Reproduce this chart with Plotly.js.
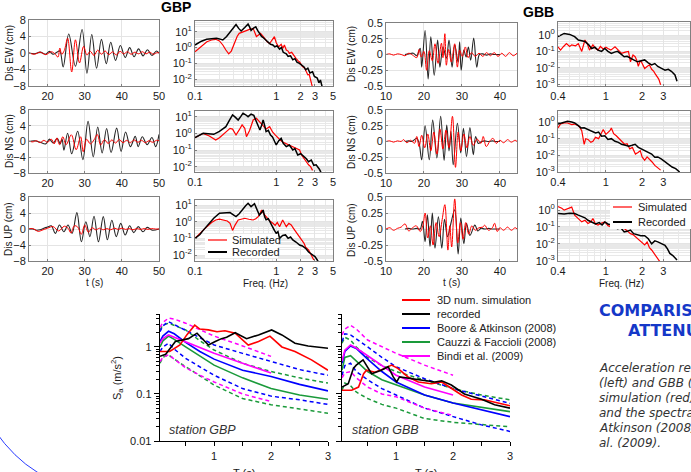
<!DOCTYPE html>
<html><head><meta charset="utf-8">
<script src="https://cdn.plot.ly/plotly-3.0.1.min.js"></script>
<style>html,body{margin:0;padding:0;background:#fff;}#chart{width:691px;height:472px;}</style>
</head><body><div id="chart"></div>
<script>
// ---------------- DATA: displacement time series (cm) ----------------
const gbpEwRecT=[15,16.5,18,19.5,20.5,21.5,22.5,23.3,24.2,25.7,27.5,29.3,30.6,31.9,33.2,34.5,35.8,37.0,38.3,39.6,40.9,42.1,43.3,44.5,45.7,46.9,48.1,49.3,50];
const gbpEwRec=[0,-0.2,0.2,-0.3,0.4,-0.3,0.2,0.5,-3.4,4.6,-3.2,5.7,-4.9,4.5,-3.7,3.3,-2.6,2.6,-1.8,1.8,-1.1,1.3,-0.9,1.0,-0.7,0.8,-0.6,0.5,0];
const gbpEwSimT=[15,16.5,18,19.5,21,22,22.8,23.3,23.8,24.5,25.4,26.5,27.5,28.6,29.7,30.6,31.5,32.5,33.5,34.5,35.5,36.5,37.5,38.5,39.5,40.5,41.5,42.5,43.5,44.5,45.5,46.5,47.5,48.5,49.5,50];
const gbpEwSim=[0,-0.3,0.2,-0.4,0.3,-0.2,-1.0,1.2,-0.3,0.6,3.6,-4.6,3.2,-2.4,1.6,-0.5,0.4,-0.6,0.7,-0.3,0.5,-0.4,0.3,-0.5,0.4,-0.2,0.3,-0.3,0.2,-0.2,0.3,-0.2,0.2,-0.3,0.1,0];
const gbpNsRecT=[15,16.5,18,19.5,20.5,21.5,22.6,23.4,23.9,24.4,25.4,26.5,28.1,29.5,30.9,32.3,33.5,34.7,35.9,37.1,38.6,39.8,41.0,42.3,43.6,44.4,45.5,46.8,48.1,49.1,50];
const gbpNsRec=[0,0.2,-0.2,-0.6,0.6,-0.4,0.8,-0.6,0.6,-2.2,2.1,-3.1,2.6,-4.6,5.1,-3.9,3.7,-2.9,3.3,-2.8,3.4,-2.5,2.4,-1.3,1.3,-1.3,1.2,-0.8,1.0,-1.3,1.8];
const gbpNsSimT=[15,16,17,18,19,20,21,21.8,22.5,23.2,24.1,25.0,26.4,27.7,28.9,29.6,30.5,31.5,32.5,33.4,34.3,35.3,36.3,37.3,38.3,39.3,40.3,41.3,42.3,43.3,44.3,45.3,46.3,47.3,48.3,49.3,50];
const gbpNsSim=[0.1,-0.1,0.2,-0.3,0.3,-0.2,0.6,-0.6,0.9,-0.8,1.2,-0.8,1.7,-2.1,1.2,-2.6,0.6,-0.6,0.4,1.8,-0.9,0.5,-0.5,0.4,-0.4,0.5,-0.3,0.3,-0.3,0.4,-0.2,0.3,-0.3,0.2,-0.2,0.3,0.2];
const gbpUpRecT=[15,16,17,18,19,20,21,22.1,23.2,24.4,25.5,26.6,27.9,29.1,30.3,31.4,32.5,33.7,35,36.1,37.3,38.5,39.7,40.9,42.1,43.2,44.4,45.7,46.8,48.2,50];
const gbpUpRec=[0,0,-0.3,-0.2,0.2,0.5,0.8,-1.1,1.0,-0.7,1.0,-1.1,4.1,-3.2,1.8,-1.9,3.2,-3.2,3.1,-2.7,2.2,-1.9,1.4,-1.5,0.8,-0.9,0.6,-0.7,0.4,-0.3,0];
const gbpUpSimT=[15,16,17.5,18.5,20,21.5,23,24.5,25.5,26.3,27.2,28.1,29.1,30,31,32,33,34,35,36,37,38,39,40,41,42,43,44,45,46,47,48,49,50];
const gbpUpSim=[0,0.1,-0.6,-0.3,0.2,0.6,-0.5,0.7,0.2,-1.0,0.8,0.5,-1.3,1.0,-0.8,0.3,-0.2,0.2,-0.2,0.1,-0.2,0.2,-0.1,0.2,-0.1,0.1,-0.2,0.1,-0.1,0.1,-0.1,0.1,0,0];

const gbbEwRecT=[15,16,17.2,18.1,19,19.4,20.3,21.1,21.8,22.7,23.6,24.2,25,25.9,26.6,27.4,28.1,29,29.4,29.8,30.5,31.1,31.7,32.3,33.1,33.9,34.6,35.5,36.5,37.5,38.5,40];
const gbbEwRec=[0,0.01,0.02,-0.02,0.1,-0.2,0.38,-0.39,0.28,-0.33,0.23,-0.2,0.12,-0.06,0.23,-0.2,0.15,-0.12,0.2,-0.25,0.07,-0.04,0.12,-0.09,0.26,-0.2,0,0.01,-0.01,0.01,0,0];
const gbbEwSimT=[10,11,12,13,14,15,16,17,18.1,18.7,19.3,20,20.7,21.4,22.2,22.9,23.7,24.6,25,25.5,25.9,26.5,27.2,28.1,28.8,29.4,30.1,30.9,31.6,32.5,33.5,34.5,35.5,36.5,37.5,38.5,39.5,40.5,41.5,42.5,43.5,44.5];
const gbbEwSim=[0,0.01,-0.01,0.01,0,-0.02,0.02,-0.01,-0.05,0.08,-0.04,0.05,-0.25,0.06,-0.1,0.17,-0.14,0.18,-0.05,0.33,-0.17,0.08,-0.12,0.17,-0.2,0.07,-0.03,0.12,-0.05,0.03,-0.03,0.02,-0.03,0.03,-0.02,0.03,-0.03,0.02,-0.03,0.03,-0.02,0.02];
const gbbNsRecT=[15,16,16.8,18.1,18.7,19.4,20.3,21.4,22.3,23.4,24.4,25.3,26,26.6,27.1,27.7,28.8,29.7,30.4,31.2,32.1,33,33.6,34.3,35.2,36,37,38,39,40];
const gbbNsRec=[0,0.01,0,0.05,-0.02,-0.29,0.25,-0.29,0.34,-0.26,0.4,-0.3,0.26,-0.15,0.16,-0.37,0.29,-0.18,0.21,-0.24,0.22,-0.21,0.08,-0.03,0,0.01,0,0.01,0,0];
const gbbNsSimT=[10,11,12,13,14,14.6,15.5,16.5,17.5,18.1,18.7,19.4,20.2,21,21.8,22.6,23.4,24.2,25,25.8,26.6,27.5,28.3,29,29.7,30.5,31.3,32.1,33,34,35,35.6,36.4,37.5,38.2,39,40,41,42,43,44,44.5];
const gbbNsSim=[0,0.01,-0.01,0.01,0,0.03,-0.02,0.02,-0.03,0.08,-0.08,0.1,-0.1,0.12,-0.15,0.15,-0.2,0.2,-0.12,0.18,-0.1,0.4,-0.41,0.15,-0.15,0.12,-0.1,0.08,-0.06,0.04,-0.03,0.08,-0.08,0.02,0.05,-0.03,0.02,-0.02,0.03,-0.01,0.02,0];
const gbbUpRecT=[15,16,17,18,19,19.6,20.3,20.9,21.6,22.2,22.9,23.8,24.7,25.4,26.2,27.1,28.1,29,29.7,30.5,31.2,32.1,33.4,34.2,35,36,37,38,39,40];
const gbbUpRec=[0,0.01,0,0.01,0,0.12,-0.2,0.22,-0.27,0.25,-0.3,0.19,-0.3,0.15,-0.12,0.09,0.3,-0.39,0.17,-0.23,0.09,-0.1,0.06,-0.03,0.01,0,0.01,0,0,0];
const gbbUpSimT=[10,11,12,13,14,15,16,17,18,19,19.7,20.3,21,21.7,22.4,23.2,24,24.8,25.5,26.3,26.8,27.3,28.1,28.9,29.6,30.3,31,31.8,32.6,33.5,34.5,35.5,36,37,38,38.6,39.3,40,41,42,43,44,44.5];
const gbbUpSim=[0,0.02,-0.02,0.01,0.03,0.08,-0.03,0.02,0.05,-0.04,0.05,0.25,-0.14,0.05,-0.25,0.1,-0.12,0.15,0.38,-0.33,0.05,-0.28,0.47,-0.22,0.1,-0.16,0.1,-0.08,0.05,-0.02,0.02,0.03,0.06,-0.02,0.02,0.09,-0.04,0.02,-0.02,0.03,-0.02,0.02,0];

// ---------------- DATA: Fourier spectra ----------------
const gbpEwRecF=[0.1,0.12,0.139,0.16,0.184,0.2,0.22,0.245,0.27,0.3,0.32,0.345,0.37,0.41,0.45,0.47,0.49,0.52,0.56,0.59,0.62,0.66,0.7,0.75,0.8,0.85,0.91,0.96,1.02,1.1,1.16,1.22,1.33,1.4,1.5,1.6,1.7,1.8,1.93,2.05,2.2,2.3,2.45,2.6,2.8,2.95,3.2,3.35,3.5,3.7];
const gbpEwRecA=[1.45,2.5,3.3,3.6,3.8,3.5,3.0,5,10,20,28,16,11,18,30,20,12,16,20,12,7.8,5,4,3,2.2,1.6,1.45,1.1,1.3,0.8,1.0,0.5,0.4,0.28,0.3,0.17,0.2,0.12,0.1,0.08,0.06,0.04,0.05,0.025,0.03,0.015,0.012,0.006,0.009,0.003];
const gbpEwSimF=[0.1,0.12,0.14,0.16,0.18,0.2,0.22,0.24,0.26,0.28,0.3,0.33,0.35,0.39,0.43,0.47,0.52,0.55,0.57,0.6,0.64,0.69,0.74,0.78,0.83,0.88,0.95,1.0,1.07,1.15,1.21,1.26,1.33,1.4,1.45,1.55,1.65,1.75,1.85,1.95,2.1,2.25,2.35,2.45,2.55,2.7,2.8];
const gbpEwSimA=[0.55,1.2,2.3,3.0,3.3,2.6,1.45,0.7,0.4,0.6,1.5,5,7.8,10,12,14,16,9,4.9,6,7.8,5,3,2.2,1.8,3,4.8,2,1.1,1.6,0.9,1.45,0.7,0.6,0.43,0.5,0.3,0.21,0.15,0.12,0.063,0.05,0.03,0.019,0.02,0.007,0.003];
const gbpNsRecF=[0.1,0.115,0.126,0.145,0.17,0.2,0.22,0.24,0.265,0.29,0.315,0.34,0.365,0.39,0.42,0.45,0.49,0.53,0.57,0.6,0.63,0.66,0.69,0.72,0.75,0.8,0.85,0.9,0.95,1.0,1.07,1.15,1.22,1.33,1.45,1.6,1.7,1.84,2.0,2.2,2.35,2.5,2.7,2.9,3.1,3.4,3.6];
const gbpNsRecA=[0.55,0.8,1.0,0.95,0.87,1.3,1.8,2.5,6,12.6,9,6.3,10,16,13,10,14,12,5,2.5,1.6,3,6.3,3,1.26,1.5,0.8,0.6,0.35,0.2,0.35,0.5,0.25,0.16,0.2,0.1,0.12,0.05,0.06,0.04,0.03,0.02,0.025,0.012,0.013,0.007,0.004];
const gbpNsSimF=[0.1,0.115,0.126,0.15,0.18,0.2,0.22,0.25,0.27,0.29,0.32,0.35,0.38,0.41,0.43,0.47,0.52,0.57,0.62,0.69,0.75,0.83,0.9,0.97,1.05,1.12,1.2,1.3,1.4,1.5,1.6,1.75,1.94,2.05,2.2,2.35,2.5,2.65,2.8];
const gbpNsSimA=[0.55,0.8,1.0,0.7,0.4,0.55,0.8,1.4,2,1.8,0.8,1.6,3.2,2,0.63,1.5,6.3,8,5,3.2,1.8,2.5,1.2,0.8,0.5,0.4,0.3,0.25,0.2,0.18,0.16,0.12,0.1,0.05,0.03,0.02,0.013,0.01,0.006];
const gbpUpRecF=[0.1,0.115,0.126,0.145,0.17,0.2,0.23,0.27,0.3,0.32,0.35,0.39,0.42,0.45,0.49,0.54,0.58,0.62,0.66,0.69,0.72,0.75,0.8,0.85,0.9,0.95,1.0,1.05,1.1,1.2,1.3,1.4,1.5,1.6,1.75,1.94,2.1,2.3,2.5,2.8,3.0,3.2,3.4];
const gbpUpRecA=[0.1,0.17,0.3,0.7,1.6,3.2,3.5,3.5,2.5,2,3,6.3,9,12.6,8,12,6,2.5,3.5,5,2,1.3,1.5,0.8,0.5,0.3,0.2,0.25,0.1,0.15,0.16,0.1,0.12,0.08,0.06,0.04,0.035,0.025,0.015,0.01,0.008,0.005,0.003];
const gbpUpSimF=[0.1,0.12,0.14,0.16,0.18,0.2,0.22,0.25,0.27,0.29,0.31,0.34,0.37,0.41,0.46,0.52,0.56,0.6,0.63,0.66,0.7,0.75,0.82,0.91,0.97,1.03,1.1,1.2,1.27,1.33,1.43,1.53,1.63,1.75,1.9,2.05,2.2,2.3,2.5,2.7,2.9];
const gbpUpSimA=[0.1,0.25,0.5,0.9,1.26,1.4,1.26,1.1,0.8,0.3,0.6,1.26,1.4,1.6,1.4,1.26,1.5,2,3,5,3,2,1.2,0.8,0.6,0.9,0.5,1.26,0.7,0.5,0.8,0.63,0.4,0.25,0.15,0.08,0.05,0.03,0.02,0.01,0.005];

const gbbEwRecF=[0.4,0.45,0.5,0.55,0.59,0.63,0.67,0.72,0.76,0.81,0.86,0.92,0.98,1.04,1.11,1.18,1.25,1.33,1.42,1.5,1.6,1.7,1.83,1.95,2.1,2.25,2.4,2.55,2.7,2.9,3.1,3.3,3.5,3.75,3.9];
const gbbEwRecA=[0.8,1.26,1.1,0.8,0.5,0.45,0.4,0.25,0.15,0.18,0.12,0.1,0.15,0.1,0.075,0.09,0.1,0.07,0.047,0.05,0.037,0.03,0.023,0.025,0.03,0.02,0.015,0.018,0.012,0.009,0.007,0.008,0.006,0.0036,0.0015];
const gbbEwSimF=[0.4,0.42,0.445,0.47,0.5,0.52,0.56,0.59,0.63,0.65,0.67,0.7,0.73,0.78,0.82,0.86,0.9,0.95,1.0,1.04,1.1,1.19,1.27,1.35,1.45,1.54,1.6,1.68,1.75,1.8,1.86,1.92,1.97,2.03,2.1,2.2,2.3,2.4,2.5,2.58,2.65,2.75,2.85];
const gbbEwSimA=[0.19,0.12,0.2,0.3,0.2,0.25,0.22,0.3,0.1,0.2,0.5,0.3,0.12,0.25,0.15,0.12,0.2,0.14,0.18,0.15,0.12,0.19,0.12,0.075,0.09,0.1,0.023,0.06,0.047,0.03,0.012,0.025,0.023,0.015,0.009,0.012,0.015,0.008,0.006,0.004,0.003,0.002,0.0009];
const gbbNsRecF=[0.4,0.44,0.48,0.52,0.55,0.59,0.62,0.66,0.71,0.76,0.82,0.87,0.92,0.98,1.04,1.11,1.19,1.27,1.35,1.45,1.55,1.65,1.75,1.86,1.98,2.1,2.25,2.4,2.55,2.7,2.9,3.1,3.3,3.55,3.8,4.1];
const gbbNsRecA=[0.76,0.9,1.1,1.0,0.87,0.6,0.44,0.45,0.35,0.3,0.22,0.25,0.14,0.15,0.09,0.1,0.07,0.06,0.046,0.04,0.035,0.04,0.046,0.03,0.024,0.02,0.015,0.012,0.0077,0.008,0.006,0.004,0.003,0.002,0.0016,0.001];
const gbbNsSimF=[0.4,0.42,0.45,0.48,0.52,0.55,0.6,0.63,0.66,0.68,0.71,0.75,0.78,0.82,0.87,0.91,0.95,1.0,1.04,1.08,1.11,1.16,1.22,1.27,1.35,1.43,1.5,1.58,1.66,1.76,1.85,1.93,2.0,2.1,2.2,2.3,2.42,2.55,2.7,2.85];
const gbbNsSimA=[0.44,0.76,0.87,0.87,0.7,0.75,0.55,0.3,0.046,0.1,0.09,0.06,0.07,0.12,0.1,0.2,0.35,0.18,0.22,0.3,0.44,0.2,0.15,0.11,0.07,0.046,0.05,0.024,0.03,0.012,0.015,0.019,0.008,0.005,0.008,0.006,0.004,0.0025,0.0018,0.0013];
const gbbUpRecF=[0.4,0.45,0.5,0.55,0.59,0.63,0.67,0.71,0.76,0.82,0.88,0.93,0.98,1.04,1.11,1.18,1.25,1.33,1.42,1.5,1.6,1.7,1.8,1.95,2.1,2.25,2.4,2.55,2.7,2.9,3.1,3.25,3.4,3.6,3.75,3.9];
const gbbUpRecA=[0.63,0.58,0.65,0.63,0.5,0.4,0.35,0.25,0.2,0.15,0.18,0.13,0.2,0.15,0.13,0.1,0.08,0.09,0.05,0.055,0.065,0.04,0.035,0.03,0.03,0.02,0.01,0.015,0.013,0.01,0.008,0.005,0.0027,0.002,0.0014,0.0011];
const gbbUpSimF=[0.4,0.43,0.45,0.48,0.52,0.55,0.59,0.63,0.67,0.71,0.75,0.78,0.82,0.86,0.92,0.98,1.04,1.11,1.18,1.25,1.33,1.42,1.5,1.6,1.68,1.76,1.85,1.95,2.05,2.1,2.2,2.3,2.4,2.55,2.7,2.8];
const gbbUpSimA=[1.6,1.3,1.0,1.2,1.5,0.5,0.3,0.2,0.25,0.16,0.2,0.32,0.15,0.13,0.17,0.2,0.12,0.1,0.13,0.16,0.09,0.08,0.06,0.04,0.035,0.026,0.02,0.015,0.01,0.0085,0.013,0.006,0.0043,0.0022,0.0014,0.0009];

// ---------------- DATA: acceleration response spectra (m/s^2) ----------------
const gmpeT=[0.05,0.1,0.2,0.3,0.5,0.75,1,1.5,2,2.5,3];
const bindiT=[0.05,0.1,0.2,0.3,0.5,0.75,1,1.5,2];
const gbpBaMed=[1.3,1.7,2.15,1.9,1.25,0.8,0.55,0.32,0.235,0.16,0.116];
const gbpBaHi=[2.1,2.8,3.45,3.0,2.3,1.6,1.1,0.73,0.49,0.33,0.25];
const gbpBaLo=[0.8,1.0,1.2,0.9,0.57,0.38,0.25,0.13,0.09,0.075,0.06];
const gbpCfMed=[1.0,1.35,1.7,1.45,1.0,0.65,0.41,0.22,0.13,0.095,0.077];
const gbpCfHi=[2.3,2.9,3.2,2.9,2.3,1.35,0.86,0.45,0.30,0.22,0.17];
const gbpCfLo=[0.45,0.6,0.68,0.55,0.38,0.24,0.155,0.08,0.059,0.048,0.039];
const gbpBiMed=[1.2,1.5,1.8,1.6,1.3,0.95,0.73,0.45,0.28];
const gbpBiHi=[2.6,3.3,4.1,3.9,3.2,2.3,1.7,1.05,0.63];
const gbpBiLo=[0.49,0.6,0.68,0.55,0.36,0.25,0.18,0.10,0.069];
const gbpRecT=[0.05,0.15,0.32,0.55,0.70,0.81,0.90,1.02,1.13,1.22,1.37,1.57,1.78,2.01,2.19,2.42,2.65,3.0];
const gbpRecSa=[0.63,0.7,1.3,1.5,1.96,1.4,1.1,1.3,1.5,1.6,2.0,1.5,1.8,2.3,1.8,1.2,1.05,0.94];
const gbpSimT=[0.05,0.22,0.4,0.52,0.66,0.75,0.9,1.05,1.19,1.37,1.6,1.78,1.98,2.19,2.42,2.71,3.0];
const gbpSimSa=[0.8,0.8,1.1,1.8,2.9,2.4,2.3,2.1,2.2,1.96,1.1,1.3,1.7,1.0,0.8,0.53,0.32];

const gbbBaMed=[0.45,0.8,1.05,0.93,0.55,0.3,0.18,0.095,0.064,0.046,0.033];
const gbbBaHi=[1.3,1.9,1.8,1.5,1.0,0.6,0.38,0.21,0.13,0.09,0.063];
const gbbBaLo=[0.25,0.4,0.45,0.3,0.2,0.13,0.095,0.05,0.033,0.022,0.016];
const gbbCfMed=[0.32,0.6,0.65,0.5,0.3,0.2,0.155,0.095,0.064,0.052,0.042];
const gbbCfHi=[1.2,1.6,1.4,1.0,0.6,0.4,0.30,0.2,0.13,0.095,0.075];
const gbbCfLo=[0.12,0.17,0.15,0.11,0.08,0.06,0.05,0.03,0.025,0.022,0.02];
const gbbBiMed=[0.5,0.85,1.1,0.95,0.65,0.4,0.25,0.14,0.095];
const gbbBiHi=[1.8,2.4,2.9,2.4,1.4,1.0,0.73,0.41,0.25];
const gbbBiLo=[0.22,0.28,0.30,0.22,0.14,0.1,0.087,0.05,0.035];
const gbbRecT=[0.05,0.16,0.25,0.30,0.42,0.48,0.57,0.74,0.86,0.95,1.01,1.06,1.27,1.5,1.68,1.8,1.97,2.2,2.5,2.73,3.0];
const gbbRecSa=[0.14,0.165,0.35,0.41,0.53,0.41,0.27,0.32,0.38,0.23,0.18,0.23,0.21,0.19,0.18,0.19,0.155,0.1,0.077,0.059,0.05];
const gbbSimT=[0.05,0.22,0.34,0.43,0.48,0.63,0.8,0.92,1.03,1.21,1.39,1.62,1.8,1.97,2.15,2.32,2.55,2.79,3.0];
const gbbSimSa=[0.12,0.12,0.14,0.27,0.32,0.29,0.35,0.41,0.35,0.23,0.18,0.165,0.18,0.13,0.095,0.077,0.075,0.064,0.056];

const legendNames=['3D num. simulation','recorded','Boore & Atkinson (2008)','Cauzzi & Faccioli (2008)','Bindi et al. (2009)'];
const legendColors=['#ff0000','#000000','#0000ff','#1a9a3a','#ff00ff'];

// ---------------- LAYOUT ----------------
const W=691,H=472;
const xd=(l,r)=>[l/W,r/W];
const yd=(t,b)=>[1-b/H,1-t/H];
const FONT='Arial, "Liberation Sans", sans-serif';
const tf={family:FONT,size:11,color:'#1a1a1a'};
const layout={width:W,height:H,margin:{l:0,r:0,t:0,b:0},paper_bgcolor:'#fff',plot_bgcolor:'#fff',showlegend:false,shapes:[],annotations:[],hovermode:false};
const RED='#ff0000';
const traces=[];
const id=n=>n===1?'':String(n);
function frame(extra){return Object.assign({showline:true,mirror:true,linecolor:'#808080',linewidth:1,ticks:'inside',ticklen:2,tickcolor:'#808080',showgrid:true,gridcolor:'#e4e4e4',gridwidth:1,zeroline:false,tickfont:tf,fixedrange:true},extra);}
function setAx(n,xa,ya){layout['xaxis'+id(n)]=Object.assign({anchor:'y'+id(n)},xa);layout['yaxis'+id(n)]=Object.assign({anchor:'x'+id(n)},ya);}
function tr(x,y,n,color,w,dash,shape){const t={x:x,y:y,xaxis:'x'+id(n),yaxis:'y'+id(n),mode:'lines',line:{color:color,width:w,dash:dash||'solid'},hoverinfo:'skip'};if(shape){t.line.shape=shape;t.line.smoothing=1;}traces.push(t);}
const minorLog=[];for(let k=-4;k<=1;k++){for(let m=2;m<=9;m++){minorLog.push(m*Math.pow(10,k));}}
const sup=k=>'10<sup>'+k+'</sup>';

const gbpTsRows=[[20,86],[110,173],[197,261]];
const gbbTsRows=[[23,86],[110,173],[197,261]];
const gbpSpRows=[[21,86],[111,172],[200,261]];
const gbbSpRows=[[22,86],[111,172],[200,261]];
const gbpSpY=[[-2.42,1.67],[-2.32,1.34],[-2.36,1.3]];
const gbbSpY=[[-3.12,0.8],[-3.0,0.66],[-3.02,0.6]];
const tsGBP=[[gbpEwRecT,gbpEwRec,gbpEwSimT,gbpEwSim],[gbpNsRecT,gbpNsRec,gbpNsSimT,gbpNsSim],[gbpUpRecT,gbpUpRec,gbpUpSimT,gbpUpSim]];
const tsGBB=[[gbbEwRecT,gbbEwRec,gbbEwSimT,gbbEwSim],[gbbNsRecT,gbbNsRec,gbbNsSimT,gbbNsSim],[gbbUpRecT,gbbUpRec,gbbUpSimT,gbbUpSim]];
const spGBP=[[gbpEwRecF,gbpEwRecA,gbpEwSimF,gbpEwSimA],[gbpNsRecF,gbpNsRecA,gbpNsSimF,gbpNsSimA],[gbpUpRecF,gbpUpRecA,gbpUpSimF,gbpUpSimA]];
const spGBB=[[gbbEwRecF,gbbEwRecA,gbbEwSimF,gbbEwSimA],[gbbNsRecF,gbbNsRecA,gbbNsSimF,gbbNsSimA],[gbbUpRecF,gbbUpRecA,gbbUpSimF,gbbUpSimA]];
const comps=['EW','NS','UP'];
for(let r=0;r<3;r++){
  const base=r*4;
  setAx(base+1,frame({domain:xd(29,159),range:[15,50],tickvals:[20,30,40,50]}),
               frame({domain:yd(gbpTsRows[r][0],gbpTsRows[r][1]),range:[-8,8],tickvals:[-8,-4,0,4,8]}));
  tr(tsGBP[r][0],tsGBP[r][1],base+1,'#262626',1.1,null,'spline');
  tr(tsGBP[r][2],tsGBP[r][3],base+1,RED,1,null,'spline');
  setAx(base+2,frame({domain:xd(195,333),type:'log',range:[-1,Math.log10(5)],tickvals:[0.1,1,2,3,5],ticktext:['0.1','1','2','3','5'],
                      minor:{tickvals:[0.2,0.3,0.4,0.5,0.6,0.7,0.8,0.9,4],showgrid:true,gridcolor:'#e8e8e8',ticks:''}}),
               frame({domain:yd(gbpSpRows[r][0],gbpSpRows[r][1]),type:'log',range:gbpSpY[r],tickvals:[0.01,0.1,1,10],ticktext:[sup(-2),sup(-1),sup(0),sup(1)],
                      minor:{tickvals:minorLog,showgrid:true,gridcolor:'#e8e8e8',ticks:''}}));
  tr(spGBP[r][2],spGBP[r][3],base+2,RED,1.2);
  tr(spGBP[r][0],spGBP[r][1],base+2,'#000',1.5);
  setAx(base+3,frame({domain:xd(386,517),range:[10,44.5],tickvals:[10,20,30,40]}),
               frame({domain:yd(gbbTsRows[r][0],gbbTsRows[r][1]),range:[-0.5,0.5],tickvals:[-0.5,-0.25,0,0.25,0.5],ticktext:['-0.5','-0.25','0','0.25','0.5']}));
  tr(tsGBB[r][0],tsGBB[r][1],base+3,'#262626',1.1,null,'spline');
  tr(tsGBB[r][2],tsGBB[r][3],base+3,RED,1,null,'spline');
  setAx(base+4,frame({domain:xd(558,690),type:'log',range:[Math.log10(0.4),Math.log10(5)],tickvals:[0.4,1,2,3,5],ticktext:['0.4','1','2','3','5'],
                      minor:{tickvals:[0.5,0.6,0.7,0.8,0.9,4],showgrid:true,gridcolor:'#e8e8e8',ticks:''}}),
               frame({domain:yd(gbbSpRows[r][0],gbbSpRows[r][1]),type:'log',range:gbbSpY[r],tickvals:[0.001,0.01,0.1,1],ticktext:[sup(-3),sup(-2),sup(-1),sup(0)],
                      minor:{tickvals:minorLog,showgrid:true,gridcolor:'#e8e8e8',ticks:''}}));
  tr(spGBB[r][2],spGBB[r][3],base+4,RED,1.2);
  tr(spGBB[r][0],spGBB[r][1],base+4,'#000',1.5);
}

function bottomAx(n,l,r,showY){
  setAx(n,{domain:xd(l,r),range:[0.05,3],showline:true,linecolor:'#000',linewidth:1.3,ticks:'outside',ticklen:4,tickcolor:'#000',
           tickvals:[1,2,3],showgrid:false,zeroline:false,tickfont:tf,fixedrange:true,
           minor:{tickvals:[0.5,1.5,2.5],ticks:'outside',ticklen:4,tickcolor:'#000',showgrid:false}},
          {domain:yd(314,441),type:'log',range:[-2,0.7],showline:true,linecolor:'#000',linewidth:1.3,ticks:'outside',ticklen:5,tickcolor:'#000',
           tickvals:[0.01,0.1,1],ticktext:['0.01','0.1','1'],showticklabels:showY,showgrid:false,zeroline:false,tickfont:tf,fixedrange:true,
           minor:{tickvals:minorLog,ticks:'outside',ticklen:3,tickcolor:'#000',showgrid:false}});
}
bottomAx(13,160,328,true);
bottomAx(14,342,510,false);
function gmpeSet(n,ba,baHi,baLo,cf,cfHi,cfLo,bi,biHi,biLo,recT,rec,simT,sim){
  const d='4px,3px';
  tr(gmpeT,cfHi,n,legendColors[3],1.5,d);tr(gmpeT,cfLo,n,legendColors[3],1.5,d);
  tr(gmpeT,baHi,n,legendColors[2],1.5,d);tr(gmpeT,baLo,n,legendColors[2],1.5,d);
  tr(bindiT,biHi,n,legendColors[4],1.5,d);tr(bindiT,biLo,n,legendColors[4],1.5,d);
  tr(gmpeT,cf,n,legendColors[3],1.6);tr(gmpeT,ba,n,legendColors[2],1.6);tr(bindiT,bi,n,legendColors[4],1.6);
  tr(simT,sim,n,legendColors[0],1.6);tr(recT,rec,n,legendColors[1],1.6);
}
gmpeSet(13,gbpBaMed,gbpBaHi,gbpBaLo,gbpCfMed,gbpCfHi,gbpCfLo,gbpBiMed,gbpBiHi,gbpBiLo,gbpRecT,gbpRecSa,gbpSimT,gbpSimSa);
gmpeSet(14,gbbBaMed,gbbBaHi,gbbBaLo,gbbCfMed,gbbCfHi,gbbCfLo,gbbBiMed,gbbBiHi,gbbBiLo,gbbRecT,gbbRecSa,gbbSimT,gbbSimSa);

// ---------------- text & decorations ----------------
function ann(text,x,y,o){layout.annotations.push(Object.assign({text:text,xref:'paper',yref:'paper',x:x/W,y:1-y/H,showarrow:false,xanchor:'center',yanchor:'middle',font:{family:FONT,size:11,color:'#1a1a1a'}},o||{}));}
function hl(x0,x1,y,color,w){layout.shapes.push({type:'line',xref:'paper',yref:'paper',x0:x0/W,x1:x1/W,y0:1-y/H,y1:1-y/H,line:{color:color,width:w}});}
function rect(x0,x1,y0,y1){layout.shapes.push({type:'rect',xref:'paper',yref:'paper',x0:x0/W,x1:x1/W,y0:1-y1/H,y1:1-y0/H,fillcolor:'#fff',line:{width:0}});}

ann('<b>GBP</b>',176,7,{font:{family:FONT,size:14,color:'#000'}});
ann('<b>GBB</b>',538,12,{font:{family:FONT,size:14,color:'#000'}});
const rowMid=[53,141,229];
for(let r=0;r<3;r++){
  ann('Dis '+comps[r]+' (cm)',9,rowMid[r],{textangle:-90,font:{family:FONT,size:10,color:'#1a1a1a'}});
  ann('Dis '+comps[r]+' (cm)',351,rowMid[r]+1,{textangle:-90,font:{family:FONT,size:10,color:'#1a1a1a'}});
}
ann('t (s)',94,282,{font:{family:FONT,size:10,color:'#1a1a1a'}});
ann('t (s)',451,282,{font:{family:FONT,size:10,color:'#1a1a1a'}});
ann('Freq. (Hz)',265,283,{font:{family:FONT,size:10,color:'#1a1a1a'}});
ann('Freq. (Hz)',621,283,{font:{family:FONT,size:10,color:'#1a1a1a'}});

rect(205,278,234,258);
hl(208,227,240,RED,1.2);hl(208,227,252,'#000',2);
ann('Simulated',230,240,{xanchor:'left'});ann('Recorded',230,252,{xanchor:'left'});
rect(610,691,200,229);
hl(613,632,207,RED,1.2);hl(613,632,222,'#000',2);
ann('Simulated',636,207,{xanchor:'left'});ann('Recorded',636,222,{xanchor:'left'});

ann('S<sub>a</sub> (m/s<sup>2</sup>)',117,378,{textangle:-90,font:{family:FONT,size:11,color:'#1a1a1a'}});
ann('T (s)',244,473,{font:{family:FONT,size:11,color:'#1a1a1a'}});
ann('T (s)',426,473,{font:{family:FONT,size:11,color:'#1a1a1a'}});
ann('<i>station GBP</i>',167,430,{xanchor:'left',font:{family:FONT,size:12.5,color:'#333'}});
ann('<i>station GBB</i>',350,430,{xanchor:'left',font:{family:FONT,size:12.5,color:'#333'}});
for(let i=0;i<5;i++){hl(402,430,300+14*i,legendColors[i],2);ann(legendNames[i],435,300+14*i,{xanchor:'left',font:{family:FONT,size:11,color:'#222'}});}

const BLUE='#1538c8';
ann('<b>COMPARISON WITH THE</b>',597,310,{xanchor:'left',font:{family:'"DejaVu Sans", Verdana, sans-serif',size:16,color:BLUE}});
ann('<b>ATTENUATION RELATIONS</b>',626,330,{xanchor:'left',font:{family:'"DejaVu Sans", Verdana, sans-serif',size:16,color:BLUE}});
const para=['Acceleration response spectra at GBP','(left) and GBB (right) from the 3D','simulation (red), recorded (black)','and the spectral predictions of Boore &','Atkinson (2008), Cauzzi & Faccioli (2008)','al. (2009).'];
para.forEach((s,i)=>ann('<i>'+s+'</i>',597,368+15*i,{xanchor:'left',font:{family:'"DejaVu Sans", Verdana, sans-serif',size:12,color:'#333'}}));

layout.shapes.push({type:'path',xref:'paper',yref:'paper',path:'M '+(-5/W)+','+(1-431/H)+' Q '+(14/W)+','+(1-458/H)+' '+(37/W)+','+(1-472/H)+' T '+(60/W)+','+(1-484/H),line:{color:'#2a3cff',width:1}});

Plotly.newPlot('chart',traces,layout,{staticPlot:true,displayModeBar:false});
</script></body></html>
